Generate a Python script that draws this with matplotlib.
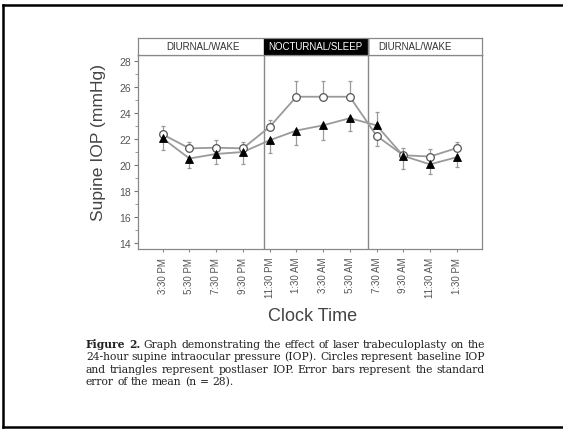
import matplotlib
matplotlib.use("Agg")
import matplotlib.pyplot as plt
from matplotlib.lines import Line2D
from matplotlib.patches import Rectangle
import numpy as np

# ---------------- data ----------------
clock_times = ["3:30 PM", "5:30 PM", "7:30 PM", "9:30 PM", "11:30 PM", "1:30 AM",
               "3:30 AM", "5:30 AM", "7:30 AM", "9:30 AM", "11:30 AM", "1:30 PM"]
baseline_iop = [22.35, 21.28, 21.33, 21.28, 22.93, 25.25, 25.25, 25.25, 22.25, 20.75, 20.65, 21.3]
baseline_sem = [0.65, 0.52, 0.6, 0.52, 0.55, 1.18, 1.18, 1.18, 0.8, 0.55, 0.55, 0.45]
postlaser_iop = [22.05, 20.5, 20.85, 21.0, 21.9, 22.65, 23.05, 23.6, 23.05, 20.7, 20.05, 20.6]
postlaser_sem = [0.9, 0.72, 0.75, 0.95, 1.0, 1.1, 1.1, 0.95, 1.05, 1.0, 0.75, 0.75]
sleep_start = 3.8
sleep_end = 7.67
period_labels = ["DIURNAL/WAKE", "NOCTURNAL/SLEEP", "DIURNAL/WAKE"]
y_ticks = [14, 16, 18, 20, 22, 24, 26, 28]

caption_lines = [
    "Figure 2. Graph demonstrating the effect of laser trabeculoplasty on the",
    "24-hour supine intraocular pressure (IOP). Circles represent baseline IOP",
    "and triangles represent postlaser IOP. Error bars represent the standard",
    "error of the mean (n = 28).",
]

# ---------------- figure ----------------
W, H = 563, 431
fig = plt.figure(figsize=(W / 100, H / 100), dpi=100)
plt.rcParams['font.family'] = ['Liberation Sans', 'DejaVu Sans']

def fx(px):
    return px / W

def fy(py):
    return 1 - py / H

ax_l, ax_r, ax_t, ax_b = 138, 482, 56, 250
ax = fig.add_axes([fx(ax_l), fy(ax_b), fx(ax_r - ax_l), (ax_b - ax_t) / H])

x = np.arange(len(clock_times))
base = np.array(baseline_iop)
post = np.array(postlaser_iop)
bse = np.array(baseline_sem)
pse = np.array(postlaser_sem)

base_up = base >= post
b_lower = np.where(base_up, 0, bse)
b_upper = np.where(base_up, bse, 0)
p_lower = np.where(base_up, pse, 0)
p_upper = np.where(base_up, 0, pse)

gray = "#9a9a9a"
ax.errorbar(x, base, yerr=[b_lower, b_upper], fmt='none', ecolor=gray,
            elinewidth=0.9, capsize=1.6, capthick=0.9, zorder=2)
ax.errorbar(x, post, yerr=[p_lower, p_upper], fmt='none', ecolor=gray,
            elinewidth=0.9, capsize=1.6, capthick=0.9, zorder=2)
ax.plot(x, base, color=gray, lw=1.3, zorder=3)
ax.plot(x, post, color=gray, lw=1.3, zorder=3)
ax.plot(x, base, 'o', ms=5.5, mfc='white', mec='#555555', mew=0.9, zorder=5)
ax.plot(x, post, '^', ms=6, mfc='black', mec='black', mew=0.6, zorder=5)

ax.axvline(sleep_start, color='#888888', lw=1.0, zorder=1)
ax.axvline(sleep_end, color='#888888', lw=1.0, zorder=1)

xlim = (-0.924, 11.945)
ax.set_xlim(*xlim)
ax.set_ylim(13.54, 28.46)
ax.set_yticks(y_ticks)
ax.set_yticks(np.arange(14, 29, 1), minor=True)
ax.set_xticks(x)
ax.set_xticklabels(clock_times, rotation=90, fontsize=7, color='#555555')
ax.tick_params(axis='y', which='major', direction='out', length=3, width=0.8,
               colors='#777777', labelcolor='#555555', labelsize=7.5, pad=2)
ax.tick_params(axis='y', which='minor', direction='out', length=2, width=0.6, colors='#888888')
ax.tick_params(axis='x', direction='out', length=2.5, width=0.8, colors='#888888',
               labelcolor='#555555', pad=3)
for s in ax.spines.values():
    s.set_color('#888888')
    s.set_linewidth(0.9)

# header band
hdr_t = 39
hax = fig.add_axes([fx(ax_l), fy(ax_t), fx(ax_r - ax_l), (ax_t - hdr_t) / H])
hax.set_xlim(*xlim)
hax.set_ylim(0, 1)
hax.set_xticks([])
hax.set_yticks([])
for s in hax.spines.values():
    s.set_color('#888888')
    s.set_linewidth(0.9)
hax.add_patch(Rectangle((sleep_start, 0), sleep_end - sleep_start, 1,
                        facecolor='black', edgecolor='black', zorder=2))
hax.axvline(sleep_end, color='#888888', lw=1.0)
label_x = [1.51, 5.70, 9.43]
label_c = ['#333333', 'white', '#333333']
for lx, lab, c in zip(label_x, period_labels, label_c):
    hax.text(lx, 0.5, lab, ha='center', va='center', fontsize=7, color=c, zorder=3)

# axis titles
fig.text(fx(99), fy(142), "Supine IOP (mmHg)", rotation=90, ha='center', va='center',
         fontsize=12.6, color='#444444')
fig.text(fx(313), fy(317), "Clock Time", ha='center', va='center',
         fontsize=13, color='#444444')

# outer frame
fig.add_artist(Line2D([fx(3), fx(W)], [fy(6), fy(6)], color='black', lw=1.8))
fig.add_artist(Line2D([fx(3), fx(3)], [fy(6), fy(428)], color='black', lw=1.8))
fig.add_artist(Line2D([fx(3), fx(W)], [fy(428), fy(428)], color='black', lw=1.8))

# caption (justified)
fig.canvas.draw()
renderer = fig.canvas.get_renderer()
cap_left, cap_right = 86, 485
line_y = [345, 357.3, 369.6, 381.9]
cap_family = ['DejaVu Serif']


def make_words(li, words, size):
    arts, widths = [], []
    for wi, wd in enumerate(words):
        bold = (li == 0 and wi < 2)
        t = fig.text(0, 0, wd, va='center', ha='left', family=cap_family,
                     fontsize=size, color='#222222',
                     fontweight='bold' if bold else 'normal')
        arts.append(t)
        widths.append(t.get_window_extent(renderer).width)
    return arts, widths

# fit font size so that the first line with natural spacing fills the measure
probe = 9.0
w0 = caption_lines[0].split(' ')
arts, widths = make_words(0, w0, probe)
sp = fig.text(0, 0, "a a", family=cap_family, fontsize=probe).get_window_extent(renderer).width - \
     2 * fig.text(0, 0, "a", family=cap_family, fontsize=probe).get_window_extent(renderer).width
natural = sum(widths) + sp * (len(w0) - 1)
for a in fig.texts[-(len(w0) + 2):]:
    a.remove()
cap_size = probe * (cap_right - cap_left) / natural

for li, (line, yy) in enumerate(zip(caption_lines, line_y)):
    words = line.split(' ')
    arts, widths = make_words(li, words, cap_size)
    if li < len(caption_lines) - 1:
        gap = (cap_right - cap_left - sum(widths)) / (len(words) - 1)
    else:
        gap = sp * cap_size / probe
    xx = cap_left
    for t, wdt in zip(arts, widths):
        t.set_position((fx(xx), fy(yy)))
        xx += wdt + gap

fig.savefig("out.png", dpi=100, facecolor='white')
